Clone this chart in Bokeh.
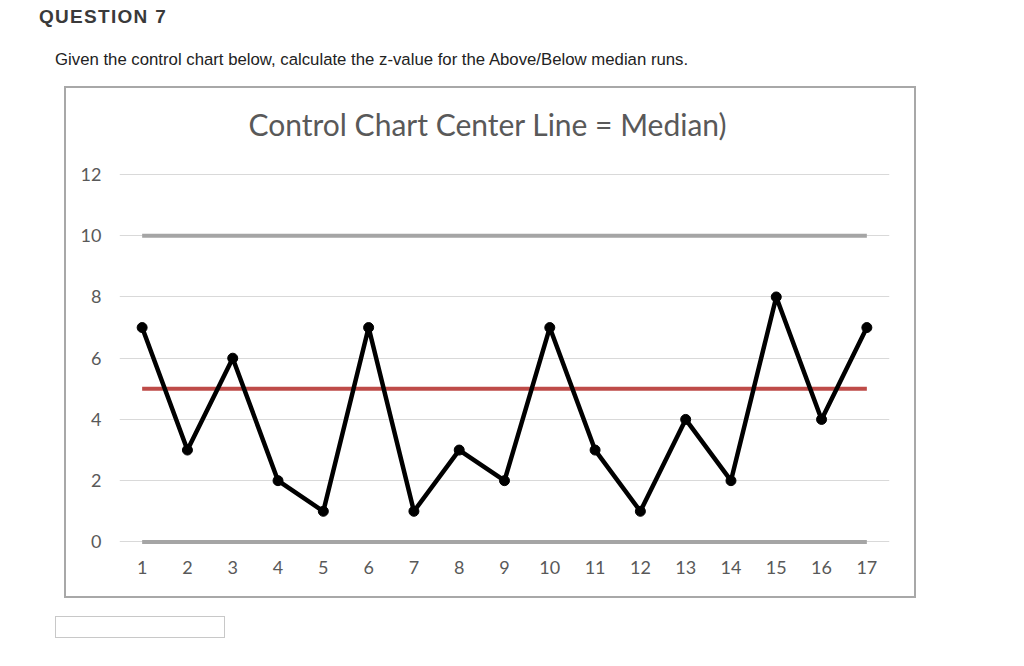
from bokeh.plotting import figure
from bokeh.models import FixedTicker, Range1d, Div, Spacer
from bokeh.layouts import column, row
from bokeh.embed import file_html
from bokeh.resources import INLINE

# ---- data ----
samples = list(range(1, 18))
values = [7, 3, 6, 2, 1, 7, 1, 3, 2, 7, 3, 1, 4, 2, 8, 4, 7]
median_line = [5] * 17
ucl = [10] * 17
lcl = [0] * 17
y_ticks = [0, 2, 4, 6, 8, 10, 12]
title_text = "Control Chart Center Line = Median)"
question_head = "QUESTION 7"
question_text = "Given the control chart below, calculate the z-value for the Above/Below median runs."

# ---- page header ----
header = Div(width=1024, height=86, margin=0, text=f"""
<div style="position:relative;width:1024px;height:86px;font-family:'Liberation Sans',Arial,sans-serif;">
  <div style="position:absolute;left:39px;top:7px;font-size:19px;line-height:19px;font-weight:bold;
              letter-spacing:1.3px;color:#3a3a3a;white-space:nowrap;">{question_head}</div>
  <div style="position:absolute;left:55px;top:52px;font-size:16.75px;line-height:16.75px;
              color:#222222;white-space:nowrap;">{question_text}</div>
</div>""")

# ---- chart ----
p = figure(width=852, height=512, output_backend="svg", toolbar_location=None,
           x_range=Range1d(0.5, 17.5), y_range=Range1d(-0.15, 12.914),
           min_border_left=53, min_border_right=29, min_border_top=58, min_border_bottom=54,
           title=title_text)
p.styles = {"border": "2px solid #a8a8a8"}
p.outline_line_color = None
p.background_fill_color = "white"
p.border_fill_color = "white"

p.title.align = "left"
p.title.offset = 129
p.title.standoff = 10
p.title.text_font = "Lato"
p.title.text_font_size = "30px"
p.title.text_font_style = "normal"
p.title.text_color = "#595959"

for ax in (p.xaxis[0], p.yaxis[0]):
    ax.axis_line_color = None
    ax.major_tick_line_color = None
    ax.minor_tick_line_color = None
    ax.major_tick_out = 0
    ax.major_tick_in = 0
    ax.major_label_text_font = "Lato"
    ax.major_label_text_font_size = "18px"
    ax.major_label_text_color = "#595959"
p.xaxis[0].ticker = FixedTicker(ticks=samples)
p.yaxis[0].ticker = FixedTicker(ticks=y_ticks)
p.xaxis[0].major_label_standoff = 14
p.yaxis[0].major_label_standoff = 18
p.xgrid.grid_line_color = None
p.ygrid.grid_line_color = "#d9d9d9"
p.ygrid.grid_line_width = 1

# control lines
p.line(samples, ucl, line_color="#a5a5a5", line_width=4)
p.line(samples, lcl, line_color="#a5a5a5", line_width=4)
p.line(samples, median_line, line_color="#be4b48", line_width=4)
# data series
p.line(samples, values, line_color="black", line_width=4.5)
p.scatter(samples, values, size=10, fill_color="black", line_color="black")

chart_row = row(Spacer(width=64, height=512, margin=0), p, spacing=0, margin=0)

# ---- answer input box ----
footer = Div(width=1024, height=68, margin=0, text="""
<div style="position:relative;width:1024px;height:68px;">
  <div style="position:absolute;left:55px;top:18px;width:170px;height:22px;border:1px solid #c8c8c8;"></div>
</div>""")

page = column(header, chart_row, footer, spacing=0, margin=0)

open("out.html", "w").write(file_html(page, INLINE))
